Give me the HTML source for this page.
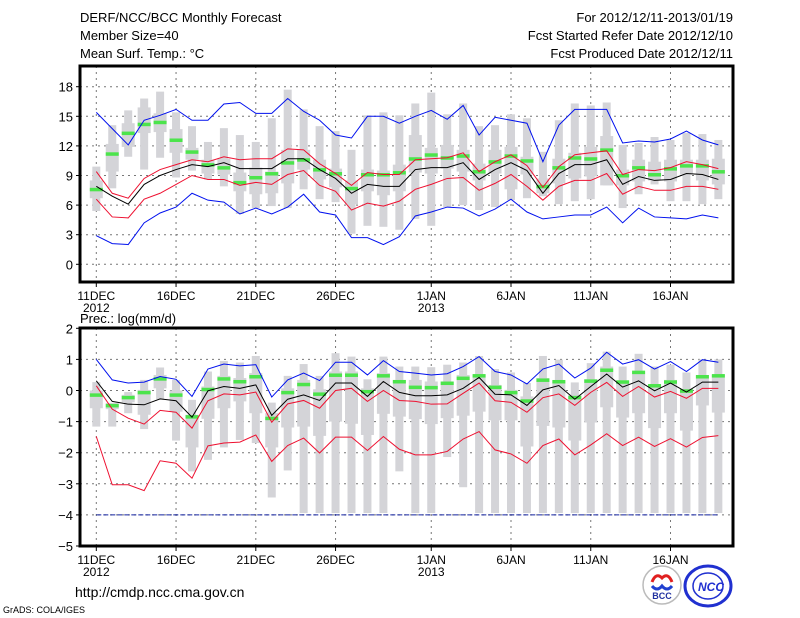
<!DOCTYPE html>
<html><head><meta charset="utf-8"><style>
body{margin:0;background:#fff;}
svg{display:block;font-family:"Liberation Sans",sans-serif;}
</style></head><body>
<svg id="c" width="800" height="618" viewBox="0 0 800 618">
<g font-size="13" fill="#000">
<text x="80" y="22">DERF/NCC/BCC Monthly Forecast</text>
<text x="80" y="40">Member Size=40</text>
<text x="80" y="58">Mean Surf. Temp.: °C</text>
<text x="733" y="22" text-anchor="end">For 2012/12/11-2013/01/19</text>
<text x="733" y="40" text-anchor="end">Fcst Started Refer Date 2012/12/10</text>
<text x="733" y="58" text-anchor="end">Fcst Produced Date 2012/12/11</text>
<text x="80" y="323">Prec.: log(mm/d)</text>
<text x="75" y="597" font-size="14">http://cmdp.ncc.cma.gov.cn</text>
<text x="3" y="613" font-size="9">GrADS: COLA/IGES</text>
</g>
<g>
<circle cx="662" cy="585" r="19" fill="#fff" stroke="#bbb" stroke-width="1.5"/>
<path d="M652 582 q4 -10 10 -4 q6 -6 10 4" fill="none" stroke="#e02020" stroke-width="3"/>
<path d="M652 586 q5 6 10 0 q5 6 10 0" fill="none" stroke="#2040d0" stroke-width="3"/>
<text x="662" y="599" font-size="9" font-weight="bold" text-anchor="middle" fill="#2030a0">BCC</text>
</g>
<g>
<ellipse cx="708" cy="586" rx="23" ry="20" fill="none" stroke="#2030d0" stroke-width="3"/>
<ellipse cx="708" cy="586" rx="15" ry="13" fill="none" stroke="#2030d0" stroke-width="1.5"/>
<text x="711" y="591" font-size="12" font-style="italic" font-weight="bold" text-anchor="middle" fill="#2030d0">NCC</text>
</g>
</svg>
<script>
// ---- data: days 11DEC2012 .. 19JAN2013 (40 days) ----
const tTick=[0,3,6,9,12,15,18];
const pTick=[2,1,0,-1,-2,-3,-4,-5];
const xTickDays=[0,5,10,15,21,26,31,36];
const xTickLabels=["11DEC","16DEC","21DEC","26DEC","1JAN","6JAN","11JAN","16JAN"];
const xTickYears={0:"2012",21:"2013"};

const tMax=[15.4,13.75,12.1,14.6,15.1,15.7,14.6,14.6,16.25,16.4,15.3,15.3,16.8,15.5,14.6,13.1,12.8,15.0,15.0,14.3,15.0,15.6,14.7,16.1,13.1,14.9,14.6,14.3,10.4,14.1,15.7,15.7,15.7,12.3,12.5,12.4,12.7,13.5,12.6,12.1];
const tMin=[2.9,2.1,2.0,4.2,5.2,5.8,7.2,6.5,6.3,5.1,5.7,5.1,5.8,7.1,5.3,5.0,2.7,2.7,2.0,2.8,4.9,5.3,5.8,5.7,4.9,5.6,6.6,5.3,4.6,4.8,5.0,5.0,5.8,4.2,5.7,4.8,4.7,4.6,5.0,4.7];
const tUp=[9.4,7.2,6.7,8.7,9.6,10.1,10.6,10.4,10.9,10.6,10.7,10.7,11.7,11.6,10.2,9.2,8.0,9.3,9.1,9.1,10.6,10.7,10.8,11.3,9.4,10.4,11.1,10.0,7.8,9.9,11.1,11.3,11.5,9.1,9.6,9.5,9.8,10.4,10.1,9.7];
const tLo=[6.6,4.8,4.7,6.6,7.2,8.1,9.0,8.6,8.6,8.0,8.3,8.1,9.1,9.5,8.0,7.4,5.5,6.2,5.9,6.4,7.6,8.1,8.7,8.8,7.5,8.2,9.1,7.9,6.5,7.9,8.5,8.5,9.2,7.1,7.9,7.5,7.5,7.9,7.9,7.6];
const tMean=[7.9,6.9,6.1,8.1,9.0,9.6,10.1,9.9,10.3,9.7,9.7,9.7,10.7,10.7,9.6,8.7,7.2,8.1,7.9,7.9,9.6,9.8,9.8,10.3,8.6,9.6,10.3,9.5,7.2,9.2,10.1,10.1,10.6,8.1,8.9,8.5,8.6,9.2,9.1,8.6];
const tMed=[7.6,11.2,13.3,14.2,14.4,12.6,11.4,10.1,9.8,8.3,8.8,9.2,10.3,10.6,9.6,9.2,7.7,9.1,9.1,9.3,10.7,11.1,10.8,11.0,9.4,10.4,11.0,10.5,7.9,9.8,10.8,10.7,11.6,9.0,9.8,9.1,9.7,10.0,10.0,9.4];
const tWHi=[9.9,14.1,15.6,16.8,17.5,15.4,14.0,12.4,13.8,13.1,12.4,14.8,17.7,15.7,14.0,13.5,11.6,15.1,15.4,15.1,16.3,17.4,15.2,16.3,14.0,14.1,15.2,14.8,11.4,14.6,16.3,16.1,16.4,12.1,12.3,12.9,12.6,13.3,13.2,12.6];
const tWLo=[5.4,7.7,10.9,9.6,10.8,8.8,9.5,8.6,7.9,5.1,5.7,5.9,5.7,7.6,6.6,6.3,3.1,3.9,3.8,3.5,4.6,3.9,5.8,6.0,5.5,5.8,6.5,6.7,6.9,6.1,6.4,6.6,8.0,5.7,7.1,8.1,6.4,6.4,6.1,6.6];
const tBHi=[8.5,12.2,14.3,15.9,15.3,13.7,11.8,10.6,10.7,9.3,9.8,9.4,11.6,11.6,10.6,9.7,8.5,9.6,9.5,10.1,13.1,11.8,12.1,11.6,10.2,11.6,11.9,10.9,8.7,10.7,11.3,11.9,13.0,9.6,10.6,10.4,10.6,10.6,10.6,10.7];
const tBLo=[6.7,9.4,11.9,13.3,13.4,11.3,10.6,9.2,9.1,7.4,7.1,7.2,8.2,9.6,8.6,7.8,6.1,7.4,7.0,7.4,9.3,9.2,9.7,9.4,8.5,9.2,7.6,9.1,7.2,8.2,8.7,8.9,8.0,8.0,8.4,8.5,8.4,9.1,8.5,8.1];

const pMax=[1.0,0.34,0.24,0.27,0.45,0.36,-0.19,0.69,0.85,0.79,0.83,-0.21,0.34,0.56,0.32,0.91,0.91,0.5,0.96,0.61,0.56,0.5,0.54,0.77,1.09,0.61,0.5,0.21,0.69,0.85,0.4,0.72,1.23,0.85,0.99,0.69,0.93,0.61,0.99,0.91];
const pMin=[-4,-4,-4,-4,-4,-4,-4,-4,-4,-4,-4,-4,-4,-4,-4,-4,-4,-4,-4,-4,-4,-4,-4,-4,-4,-4,-4,-4,-4,-4,-4,-4,-4,-4,-4,-4,-4,-4,-4,-4];
const pMean=[0.31,-0.35,-0.44,-0.46,-0.27,-0.33,-0.86,-0.01,0.13,0.07,0.18,-0.8,-0.28,-0.14,-0.32,0.24,0.24,-0.19,0.29,-0.06,-0.17,-0.17,-0.14,0.07,0.42,-0.12,-0.14,-0.48,0.02,0.16,-0.28,0.13,0.53,0.11,0.31,-0.01,0.24,-0.05,0.27,0.27];
const pUp=[0.15,-0.6,-0.89,-1.08,-0.64,-0.7,-1.21,-0.33,-0.11,-0.14,-0.05,-1.02,-0.43,-0.32,-0.57,0,0.07,-0.35,0,-0.32,-0.35,-0.44,-0.43,-0.09,0.24,-0.33,-0.38,-0.7,-0.23,-0.11,-0.48,-0.06,0.26,-0.19,0.13,-0.21,-0.03,-0.25,0.07,0.07];
const pLo=[-1.48,-3.03,-3.03,-3.22,-2.26,-2.34,-2.82,-1.78,-1.69,-1.66,-1.43,-2.28,-1.77,-1.53,-2.01,-1.5,-1.5,-1.93,-1.48,-1.89,-2.07,-2.07,-1.96,-1.56,-1.32,-1.91,-2.04,-2.34,-1.77,-1.56,-2.07,-1.75,-1.39,-1.77,-1.5,-1.8,-1.55,-1.82,-1.51,-1.45];
const pMed=[-0.14,-0.48,-0.22,-0.06,0.38,-0.14,-0.84,0.04,0.38,0.29,0.45,-0.89,-0.06,0.2,-0.11,0.5,0.5,-0.03,0.48,0.29,0.11,0.1,0.24,0.4,0.48,0.11,-0.06,-0.33,0.34,0.29,-0.22,0.31,0.66,0.28,0.59,0.16,0.28,-0.01,0.45,0.48];
const pWHi=[0.27,-0.48,-0.05,0.34,0.74,0.34,-0.3,0.61,0.95,0.9,1.11,-0.39,0.47,0.85,0.47,1.2,1.09,0.36,1.09,0.77,0.77,0.75,0.83,0.9,1.11,0.69,0.58,0.24,1.11,0.99,0.26,0.88,1.25,0.77,1.18,0.77,0.83,0.58,1.0,1.0];
const pWLo=[-1.16,-1.16,-0.73,-1.24,-0.28,-1.61,-2.6,-2.23,-1.83,-1.59,-1.69,-3.44,-2.57,-3.94,-3.94,-3.94,-3.94,-3.94,-3.94,-2.6,-3.94,-3.94,-2.14,-3.11,-3.94,-3.94,-3.94,-3.94,-3.94,-3.94,-3.94,-3.94,-3.94,-3.94,-3.94,-3.94,-3.94,-3.94,-3.94,-3.94];
const pBHi=[0,-0.4,-0.14,0.02,0.5,0,-0.78,0.13,0.47,0.4,0.56,-0.73,0.07,0.34,0.04,0.61,0.61,0.07,0.56,0.34,0.34,0.29,0.29,0.5,0.5,0.18,0.02,-0.19,0.4,0.29,-0.14,0.36,0.77,0.29,0.61,0.13,0.34,0.02,0.5,0.5];
const pBLo=[-0.57,-0.6,-0.38,-0.78,0.07,-0.68,-1.83,-0.91,-0.57,-0.35,-0.73,-1.83,-1.19,-1.16,-1.46,-1.0,-1.07,-1.43,-0.75,-0.84,-0.92,-1.08,-0.89,-0.81,-0.68,-0.96,-0.96,-1.8,-1.14,-1.19,-1.61,-1.03,-0.54,-0.87,-0.73,-1.21,-0.73,-1.29,-0.48,-0.71];

const svg=document.getElementById('c');
const NS='http://www.w3.org/2000/svg';
function mk(tag,attrs,parent){const e=document.createElementNS(NS,tag);for(const k in attrs)e.setAttribute(k,attrs[k]);(parent||svg).appendChild(e);return e;}
const xOf=d=>96.3+15.95*d;

function panel(cfg){
  const g=mk('g',{});
  
  
  const yOf=v=>cfg.y0+(v-cfg.vmin)*(cfg.y1-cfg.y0)/(cfg.vmax-cfg.vmin);
  cfg.ticks.forEach(t=>{
    const ln=mk('line',{x1:80,x2:733,y1:yOf(t),y2:yOf(t),stroke:'#777','stroke-dasharray':'2,4','stroke-width':1},g);
    
    
    const tx=mk('text',{x:73,y:yOf(t)+5,'text-anchor':'end','font-size':13},g);
    tx.textContent=String(t).replace('-','\u2212');
    
    
    const tk=mk('line',{x1:76,x2:80,y1:yOf(t),y2:yOf(t),stroke:'#000'},g);
    
    
  });
  xTickDays.forEach((d,i)=>{
    const ln=mk('line',{x1:xOf(d),x2:xOf(d),y1:cfg.top,y2:cfg.bot,stroke:'#777','stroke-dasharray':'2,4','stroke-width':1},g);
    
    
    const tk=mk('line',{x1:xOf(d),x2:xOf(d),y1:cfg.bot,y2:cfg.bot+5,stroke:'#000'},g);
    
    
    const tx=mk('text',{x:xOf(d),y:cfg.bot+18,'text-anchor':'middle','font-size':12},g);
    tx.textContent=xTickLabels[i];
    
    
    if(xTickYears[d]){
      const ty=mk('text',{x:xOf(d),y:cfg.bot+30,'text-anchor':'middle','font-size':12},g);
      ty.textContent=xTickYears[d];
      
      
    }
  });
  for(let d=0;d<cfg.wHi.length;d++){
    const x=xOf(d);
    const w=mk('rect',{x:x-4,y:yOf(cfg.wHi[d]),width:8,height:Math.max(0,yOf(cfg.wLo[d])-yOf(cfg.wHi[d])),fill:'#d4d4d8'},g);
    
    
    const b=mk('rect',{x:x-6.5,y:yOf(cfg.bHi[d]),width:13,height:Math.max(1,yOf(cfg.bLo[d])-yOf(cfg.bHi[d])),fill:'#d4d4d8'},g);
    
    
  }
  for(let d=0;d<cfg.med.length;d++){
    const m=mk('rect',{x:xOf(d)-6.5,y:yOf(cfg.med[d])-1.5,width:13,height:3.5,fill:'#4ce44c'},g);
    
    
  }
  const series=[[cfg.max,'#0010ee','max-line',null],[cfg.min,cfg.minColor||'#0010ee','min-line',cfg.minDash],[cfg.up,'#ee1030','upper-line',null],[cfg.lo,'#ee1030','lower-line',null],[cfg.mean,'#000','mean-line',null]];
  series.forEach(([arr,col,nm,dash])=>{
    const a={points:arr.map((v,d)=>xOf(d)+','+yOf(v)).join(' '),fill:'none',stroke:col,'stroke-width':1};
    if(dash)a['stroke-dasharray']=dash;
    const p=mk('polyline',a,g);
    
    
  });
  const fr=mk('rect',{x:80,y:cfg.top,width:653,height:cfg.bot-cfg.top,fill:'none',stroke:'#000','stroke-width':3},g);
  
  
}
panel({name:'temperature-panel',top:66,bot:282,vmin:0,vmax:18,y0:264.3,y1:86.7,ticks:tTick,
  max:tMax,min:tMin,up:tUp,lo:tLo,mean:tMean,med:tMed,wHi:tWHi,wLo:tWLo,bHi:tBHi,bLo:tBLo});
panel({name:'precipitation-panel',top:328,bot:546,vmin:-5,vmax:2,y0:546,y1:328.3,ticks:pTick,minColor:'#1020a0',minDash:'5,2',
  max:pMax,min:pMin,up:pUp,lo:pLo,mean:pMean,med:pMed,wHi:pWHi,wLo:pWLo,bHi:pBHi,bLo:pBLo});
</script>
</body></html>
